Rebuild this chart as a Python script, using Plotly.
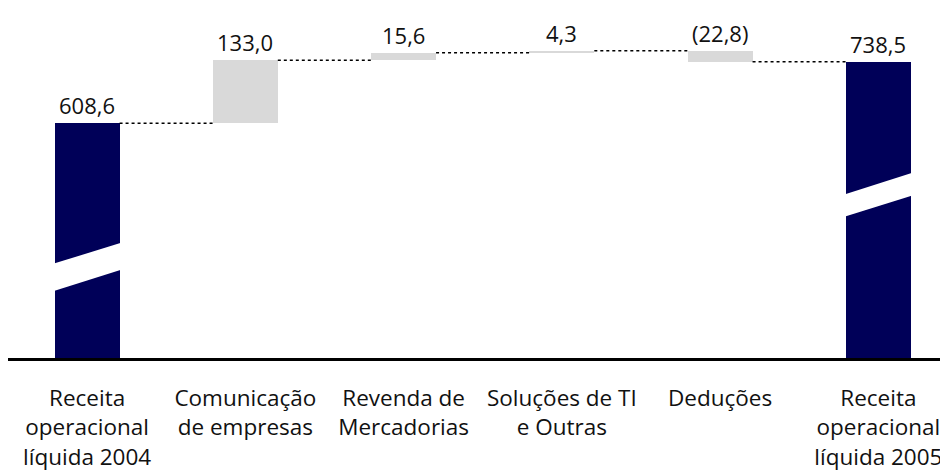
import plotly.graph_objects as go

categories = ["Receita<br>operacional<br>líquida 2004", "Comunicação<br>de empresas",
              "Revenda de<br>Mercadorias", "Soluções de TI<br>e Outras", "Deduções",
              "Receita<br>operacional<br>líquida 2005"]
values = [608.6, 133.0, 15.6, 4.3, -22.8, 738.5]
kinds = ["total", "delta", "delta", "delta", "delta", "total"]
value_labels = ["608,6", "133,0", "15,6", "4,3", "(22,8)", "738,5"]

NAVY = "#000058"
GRAY = "#d9d9d9"
FONT = "Open Sans"
BW = 0.41

x = list(range(len(categories)))
bases, heights, colors, tops, levels = [], [], [], [], []
run = 0.0
for v, k in zip(values, kinds):
    if k == "total":
        bases.append(0.0)
        heights.append(v)
        colors.append(NAVY)
        run = v
        tops.append(v)
    else:
        start = run
        run = run + v
        bases.append(min(start, run))
        heights.append(abs(v))
        colors.append(GRAY)
        tops.append(max(start, run))
    levels.append(run)

fig = go.Figure()
fig.add_trace(go.Bar(x=x, y=heights, base=bases, width=BW, marker=dict(color=colors, line=dict(width=0)),
                     hoverinfo="skip", showlegend=False))

# dotted connectors
for i in range(len(values) - 1):
    fig.add_trace(go.Scatter(x=[x[i] + BW / 2, x[i + 1] - BW / 2], y=[levels[i], levels[i]], mode="lines",
                             line=dict(color="#000000", width=1.5, dash="dot"),
                             hoverinfo="skip", showlegend=False))

# axis break bands on the total bars
breaks = {0: (311.3, 357.7, 253.5, 300.8), 5: (457.4, 505.3, 410.4, 457.4)}
for i, (ul, ur, ll, lr) in breaks.items():
    x0, x1 = x[i] - BW / 2 - 0.02, x[i] + BW / 2 + 0.02
    path = f"M {x0},{ul} L {x1},{ur} L {x1},{lr} L {x0},{ll} Z"
    fig.add_shape(type="path", path=path, xref="x", yref="y", fillcolor="white", line=dict(width=0), layer="above")

for i, lab in enumerate(value_labels):
    fig.add_annotation(x=x[i], y=tops[i], text=lab, showarrow=False, yanchor="bottom", yshift=1,
                       font=dict(family=FONT, size=22, color="#111111"))

fig.update_layout(
    width=940, height=467,
    margin=dict(l=0, r=0, t=2, b=117),
    plot_bgcolor="white", paper_bgcolor="white",
    bargap=0,
    xaxis=dict(range=[-0.5, 5.44], tickvals=x, ticktext=categories, showline=True, linecolor="black",
               linewidth=3, ticks="", showgrid=False, zeroline=False, automargin=False,
               ticklabelstandoff=18,
               tickfont=dict(family=FONT, size=22.5, color="#111111")),
    yaxis=dict(range=[113.7, 847.6], visible=False, showgrid=False, zeroline=False, automargin=False),
)

fig.write_html("out.html")
